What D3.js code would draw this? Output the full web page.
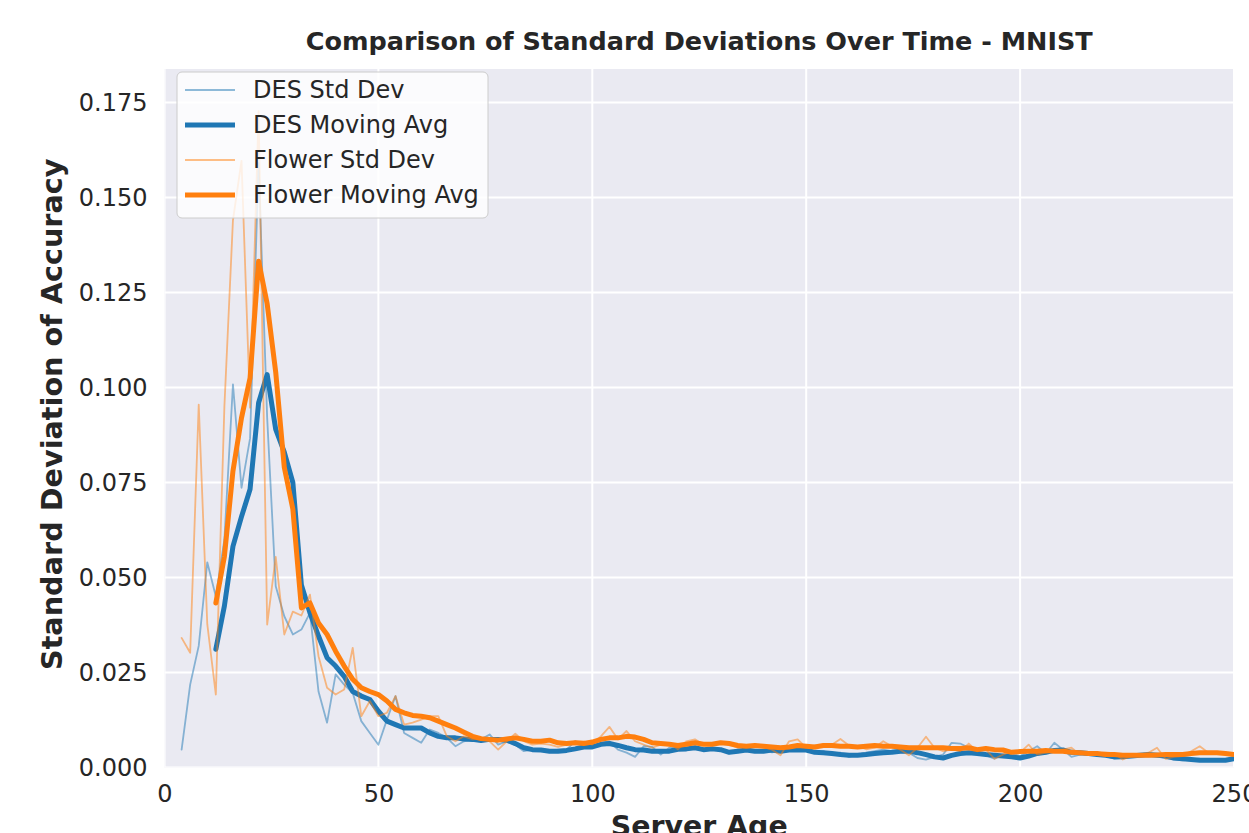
<!DOCTYPE html>
<html>
<head>
<meta charset="utf-8">
<script src="https://cdn.jsdelivr.net/npm/d3@7"></script>
<style>
  body { margin: 0; background: #fff; }
  svg { display: block; font-family: "DejaVu Sans", sans-serif; }
</style>
</head>
<body>
<div id="chart"></div>
<script>
// Server age (x) for every sample
const ages = [4, 6, 8, 10, 12, 14, 16, 18, 20, 22,
  24, 26, 28, 30, 32, 34, 36, 38, 40, 42,
  44, 46, 48, 50, 52, 54, 56, 58, 60, 62,
  64, 66, 68, 70, 72, 74, 76, 78, 80, 82,
  84, 86, 88, 90, 92, 94, 96, 98, 100, 102,
  104, 106, 108, 110, 112, 114, 116, 118, 120, 122,
  124, 126, 128, 130, 132, 134, 136, 138, 140, 142,
  144, 146, 148, 150, 152, 154, 156, 158, 160, 162,
  164, 166, 168, 170, 172, 174, 176, 178, 180, 182,
  184, 186, 188, 190, 192, 194, 196, 198, 200, 202,
  204, 206, 208, 210, 212, 214, 216, 218, 220, 222,
  224, 226, 228, 230, 232, 234, 236, 238, 240, 242,
  244, 246, 248, 250]

const desStd = [0.0047, 0.0218, 0.032, 0.054, 0.045, 0.060, 0.1008, 0.0736, 0.0866, 0.159,
  0.092, 0.0477, 0.0398, 0.035, 0.0363, 0.0407, 0.020, 0.0118, 0.0245, 0.0218,
  0.0196, 0.0122, 0.0091, 0.006, 0.0126, 0.0188, 0.0091, 0.0078, 0.0065, 0.010,
  0.0091, 0.0078, 0.0056, 0.0069, 0.0074, 0.0074, 0.0087, 0.006, 0.0069, 0.006,
  0.0043, 0.0047, 0.0047, 0.0043, 0.0047, 0.0047, 0.0069, 0.006, 0.0054, 0.0065,
  0.0069, 0.0047, 0.0039, 0.0028, 0.0056, 0.0054, 0.0034, 0.0052, 0.0056, 0.0047,
  0.0054, 0.0043, 0.0052, 0.0047, 0.0037, 0.0047, 0.0046, 0.0043, 0.0047, 0.004,
  0.0046, 0.0047, 0.0043, 0.0043, 0.004, 0.0043, 0.0034, 0.0039, 0.0028, 0.0034,
  0.0039, 0.0043, 0.0047, 0.0043, 0.004, 0.0039, 0.0025, 0.0021, 0.0028, 0.0034,
  0.0065, 0.0063, 0.0052, 0.0043, 0.0032, 0.0023, 0.0032, 0.0037, 0.003, 0.0043,
  0.0056, 0.0037, 0.0065, 0.0047, 0.0028, 0.0034, 0.0039, 0.0034, 0.003, 0.0023,
  0.0025, 0.003, 0.0032, 0.0037, 0.003, 0.0025, 0.0021, 0.0019, 0.0021, 0.0023,
  0.0017, 0.0019, 0.0021, 0.0028]

const desAvg = [null, null, null, null, 0.0311, 0.0425, 0.0582, 0.066, 0.0732, 0.096,
  0.1034, 0.089, 0.083, 0.075, 0.048, 0.0407, 0.0346, 0.0289, 0.0267, 0.024,
  0.020, 0.0188, 0.0179, 0.0148, 0.0122, 0.0113, 0.0104, 0.0104, 0.0104, 0.0091,
  0.0082, 0.0078, 0.0078, 0.0075, 0.0074, 0.0071, 0.0074, 0.0074, 0.0072, 0.0063,
  0.0052, 0.0047, 0.0046, 0.0043, 0.0043, 0.0045, 0.0049, 0.0054, 0.0054, 0.0061,
  0.0063, 0.0058, 0.0052, 0.0047, 0.0046, 0.0043, 0.0043, 0.0043, 0.0048, 0.0049,
  0.0052, 0.0047, 0.0049, 0.0047, 0.004, 0.0043, 0.0046, 0.0043, 0.0043, 0.0046,
  0.0043, 0.0046, 0.0046, 0.0046, 0.004, 0.0039, 0.0037, 0.0034, 0.0032, 0.0032,
  0.0034, 0.0037, 0.0039, 0.004, 0.0043, 0.0043, 0.0039, 0.0034, 0.0028, 0.0025,
  0.0032, 0.0037, 0.0039, 0.0037, 0.0034, 0.0032, 0.003, 0.0028, 0.0025, 0.003,
  0.0037, 0.004, 0.0045, 0.0046, 0.004, 0.0039, 0.0037, 0.0034, 0.0032, 0.0028,
  0.0028, 0.003, 0.0032, 0.0034, 0.0032, 0.003, 0.0025, 0.0023, 0.0021, 0.0019,
  0.0019, 0.0019, 0.0019, 0.0023]

const flwStd = [0.0341, 0.0302, 0.0955, 0.0377, 0.0192, 0.095, 0.144, 0.1596, 0.0947, 0.1727,
  0.0376, 0.0554, 0.035, 0.041, 0.040, 0.0455, 0.0293, 0.021, 0.0192, 0.0205,
  0.0315, 0.0135, 0.0175, 0.0135, 0.0144, 0.0188, 0.0113, 0.0118, 0.0126, 0.0135,
  0.0135, 0.0082, 0.0069, 0.0082, 0.0074, 0.0076, 0.0069, 0.0047, 0.0069, 0.0089,
  0.0069, 0.006, 0.0063, 0.006, 0.0054, 0.006, 0.0069, 0.0069, 0.006, 0.0082,
  0.0107, 0.0074, 0.0096, 0.0069, 0.006, 0.0052, 0.006, 0.0065, 0.0048, 0.0069,
  0.0074, 0.006, 0.0063, 0.0067, 0.006, 0.0052, 0.0054, 0.0058, 0.0054, 0.0047,
  0.0032, 0.0069, 0.0074, 0.0052, 0.0058, 0.0056, 0.006, 0.0075, 0.0058, 0.0056,
  0.0048, 0.0052, 0.0069, 0.0056, 0.0047, 0.0032, 0.0052, 0.0081, 0.0052, 0.0043,
  0.0047, 0.0043, 0.0063, 0.0043, 0.0047, 0.0023, 0.0034, 0.0043, 0.004, 0.006,
  0.0034, 0.0039, 0.0043, 0.0047, 0.0052, 0.0034, 0.0037, 0.0037, 0.004, 0.0037,
  0.0021, 0.003, 0.0034, 0.0039, 0.0052, 0.0023, 0.0028, 0.003, 0.0043, 0.0056,
  0.0039, 0.0037, 0.0037, 0.0037]

const flwAvg = [null, null, null, null, 0.0433, 0.0555, 0.078, 0.092, 0.1025, 0.1332,
  0.122, 0.104, 0.079, 0.068, 0.042, 0.0433, 0.038, 0.035, 0.0306, 0.0267,
  0.0232, 0.021, 0.020, 0.0192, 0.0175, 0.0153, 0.0144, 0.0137, 0.0135, 0.0131,
  0.0122, 0.0113, 0.0104, 0.0093, 0.0082, 0.0076, 0.0074, 0.0072, 0.0075, 0.0078,
  0.0074, 0.0069, 0.0069, 0.0072, 0.0065, 0.0063, 0.0065, 0.0063, 0.0067, 0.0074,
  0.0078, 0.0078, 0.0082, 0.008, 0.0074, 0.0065, 0.0063, 0.0061, 0.0058, 0.0061,
  0.0065, 0.0061, 0.0061, 0.0065, 0.0063, 0.0058, 0.0056, 0.0058, 0.0056, 0.0054,
  0.0052, 0.0054, 0.0058, 0.0056, 0.0054, 0.0058, 0.0058, 0.0056, 0.0056, 0.0054,
  0.0056, 0.0058, 0.0056, 0.0056, 0.0054, 0.0052, 0.0052, 0.0052, 0.0052, 0.0052,
  0.005, 0.005, 0.0052, 0.0047, 0.005, 0.0047, 0.0046, 0.004, 0.0042, 0.0043,
  0.0043, 0.0045, 0.0043, 0.0043, 0.004, 0.0039, 0.0037, 0.0037, 0.0034, 0.0034,
  0.0032, 0.0032, 0.0032, 0.0032, 0.0033, 0.0034, 0.0034, 0.0034, 0.0037, 0.0039,
  0.0039, 0.0039, 0.0037, 0.0034]

const xTicks = [0, 50, 100, 150, 200, 250]
const yTicks = [0, 0.025, 0.05, 0.075, 0.1, 0.125, 0.15, 0.175]

const series = [
  { name: 'DES Std Dev', values: desStd, color: '#1f77b4', width: 1.8, opacity: 0.5 },
  { name: 'DES Moving Avg', values: desAvg, color: '#1f77b4', width: 5, opacity: 1 },
  { name: 'Flower Std Dev', values: flwStd, color: '#ff7f0e', width: 1.8, opacity: 0.5 },
  { name: 'Flower Moving Avg', values: flwAvg, color: '#ff7f0e', width: 5, opacity: 1 }
]

// Canvas
const width = 1249,
  height = 833,
  plotLeft = 164.5,
  plotRight = 1234,
  plotTop = 69,
  plotBottom = 767.5

const svg = d3.select('#chart')
  .append('svg')
  .attr('width', width)
  .attr('height', height)

const x = d3.scaleLinear().domain([0, 250]).range([plotLeft, plotRight])
const y = d3.scaleLinear().domain([0, 0.1838]).range([plotBottom, plotTop])

// plot background
svg.append('rect')
  .attr('x', plotLeft)
  .attr('y', plotTop)
  .attr('width', plotRight - plotLeft)
  .attr('height', plotBottom - plotTop)
  .attr('fill', '#eaeaf2')

svg.append('clipPath')
  .attr('id', 'plot-clip')
  .append('rect')
  .attr('x', plotLeft)
  .attr('y', plotTop)
  .attr('width', plotRight - plotLeft)
  .attr('height', plotBottom - plotTop)

// grid
const grid = svg.append('g').attr('clip-path', 'url(#plot-clip)')
grid.selectAll('.gx')
  .data(xTicks)
  .enter()
  .append('line')
  .attr('x1', d => x(d))
  .attr('x2', d => x(d))
  .attr('y1', plotTop)
  .attr('y2', plotBottom)
  .attr('stroke', '#fff')
  .attr('stroke-width', 2)
grid.selectAll('.gy')
  .data(yTicks)
  .enter()
  .append('line')
  .attr('x1', plotLeft)
  .attr('x2', plotRight)
  .attr('y1', d => y(d))
  .attr('y2', d => y(d))
  .attr('stroke', '#fff')
  .attr('stroke-width', 2)

// axes
const xAxis = svg.append('g')
  .attr('transform', `translate(0, ${plotBottom})`)
  .call(d3.axisBottom(x).tickValues(xTicks).tickSize(0).tickPadding(17).tickFormat(d3.format('d')))
const yAxis = svg.append('g')
  .attr('transform', `translate(${plotLeft}, 0)`)
  .call(d3.axisLeft(y).tickValues(yTicks).tickSize(0).tickPadding(17).tickFormat(d3.format('.3f')))

for (const ax of [xAxis, yAxis]) {
  ax.select('.domain').remove()
  ax.selectAll('text')
    .attr('font-family', '"DejaVu Sans", sans-serif')
    .attr('font-size', 24)
    .attr('fill', '#262626')
}

// lines
const line = (values) => d3.line()
  .defined((d, i) => values[i] !== null)
  .x((d, i) => x(ages[i]))
  .y((d, i) => y(values[i]))(values)

const lines = svg.append('g').attr('clip-path', 'url(#plot-clip)')
series.forEach(s => {
  lines.append('path')
    .attr('d', line(s.values))
    .attr('fill', 'none')
    .attr('stroke', s.color)
    .attr('stroke-width', s.width)
    .attr('stroke-opacity', s.opacity)
    .attr('stroke-linejoin', 'round')
    .attr('stroke-linecap', 'round')
})

// legend
const legend = svg.append('g').attr('transform', 'translate(177, 72)')
legend.append('rect')
  .attr('width', 311)
  .attr('height', 146)
  .attr('rx', 5)
  .attr('fill', '#fff')
  .attr('fill-opacity', 0.8)
  .attr('stroke', '#cccccc')
  .attr('stroke-width', 1)

series.forEach((s, i) => {
  const cy = 18 + i * 35
  legend.append('line')
    .attr('x1', 8)
    .attr('x2', 58)
    .attr('y1', cy)
    .attr('y2', cy)
    .attr('stroke', s.color)
    .attr('stroke-width', s.width)
    .attr('stroke-opacity', s.opacity)
  legend.append('text')
    .attr('x', 76)
    .attr('y', cy)
    .attr('dy', '0.35em')
    .attr('font-size', 24)
    .attr('fill', '#262626')
    .text(s.name)
})

// titles
svg.append('text')
  .attr('x', (plotLeft + plotRight) / 2)
  .attr('y', 50)
  .attr('text-anchor', 'middle')
  .attr('font-size', 25.5)
  .attr('font-weight', 'bold')
  .attr('fill', '#262626')
  .text('Comparison of Standard Deviations Over Time - MNIST')

svg.append('text')
  .attr('x', (plotLeft + plotRight) / 2)
  .attr('y', 836)
  .attr('text-anchor', 'middle')
  .attr('font-size', 28.4)
  .attr('font-weight', 'bold')
  .attr('fill', '#262626')
  .text('Server Age')

svg.append('text')
  .attr('transform', `translate(62, ${(plotTop + plotBottom) / 2 - 4}) rotate(-90)`)
  .attr('text-anchor', 'middle')
  .attr('font-size', 28.7)
  .attr('font-weight', 'bold')
  .attr('fill', '#262626')
  .text('Standard Deviation of Accuracy')
</script>
</body>
</html>
